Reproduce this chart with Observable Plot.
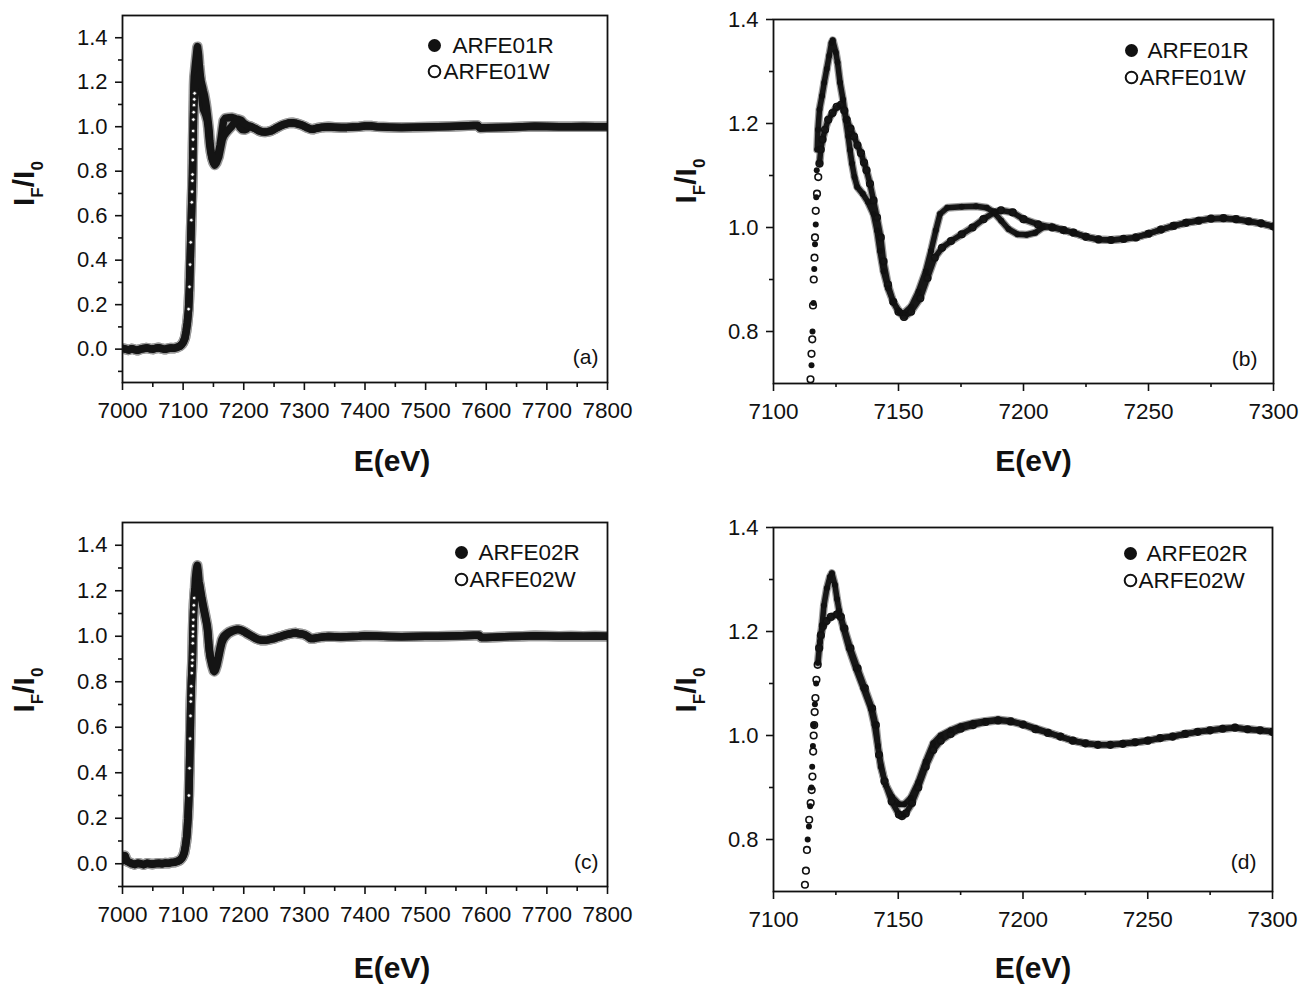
<!DOCTYPE html>
<html>
<head>
<meta charset="utf-8">
<script src="https://cdn.jsdelivr.net/npm/d3@7"></script>
<script src="https://cdn.jsdelivr.net/npm/@observablehq/plot@0.6"></script>
<style>
  body { margin: 0; background: #fff; }
  #wrap { position: relative; width: 1301px; height: 985px; background: #fff; overflow: hidden; }
  #wrap svg { position: absolute; }
</style>
</head>
<body>
<div id="wrap"></div>
<script>
// ---------------- DATA ----------------
const seriesNames01 = ["ARFE01R", "ARFE01W"];
const seriesNames02 = ["ARFE02R", "ARFE02W"];
const panelLetters = ["(a)", "(b)", "(c)", "(d)"];
const xTicksWide = [7000, 7100, 7200, 7300, 7400, 7500, 7600, 7700, 7800];
const xMinorWide = [7050, 7150, 7250, 7350, 7450, 7550, 7650, 7750];
const xTicksZoom = [7100, 7150, 7200, 7250, 7300];
const xMinorZoom = [7125, 7175, 7225, 7275];
const yTicksWide = [0.0, 0.2, 0.4, 0.6, 0.8, 1.0, 1.2, 1.4];
const yMinorWide = [-0.1, 0.1, 0.3, 0.5, 0.7, 0.9, 1.1, 1.3];
const yTicksZoom = [0.8, 1.0, 1.2, 1.4];
const yMinorZoom = [0.9, 1.1, 1.3];
const xLabel = "E(eV)";
const yLabel = "IF/I0";

// ARFE01: pre-edge (common to R and W), [E, I_F/I_0]
const pre01 = [[7000,0.004],[7005,0.0],[7010,-0.004],[7015,0.002],[7020,-0.002],[7025,-0.005],[7030,0.0],[7035,0.003],[7040,0.005],[7045,0.002],[7050,0.0],[7055,0.004],[7060,0.006],[7065,0.002],[7070,-0.001],[7075,0.003],[7080,0.005],[7085,0.004],[7090,0.008],[7095,0.014],[7098,0.022],[7100,0.03],[7103,0.05],[7105,0.08],[7107,0.12],[7109,0.18],[7110.5,0.28],[7111.5,0.38],[7112.5,0.48],[7113.5,0.58],[7114.3,0.66]];
// ARFE01R edge region
const edgeR01 = [[7115.2,0.735],[7115.6,0.80],[7116.0,0.855],[7116.3,0.92],[7116.6,0.968],[7116.9,1.006],[7117.1,1.058],[7117.3,1.11],[7117.5,1.15],[7117.8,1.188],[7118.4,1.227],[7119.4,1.253],[7120.3,1.279],[7121.3,1.305],[7122.3,1.331],[7123.2,1.355],[7123.7,1.36],[7124.9,1.337],[7125.6,1.318],[7126.6,1.279],[7127.8,1.246],[7128.9,1.208],[7129.9,1.175],[7130.6,1.149],[7131.4,1.123],[7132.4,1.097],[7133.5,1.078],[7135.7,1.065],[7137.8,1.049],[7140,1.026],[7141.4,0.994],[7142.6,0.955],[7144,0.916],[7145.8,0.883],[7147.9,0.857],[7150.4,0.838],[7152.2,0.835],[7155.1,0.848],[7158,0.877],[7160.9,0.916],[7163,0.955],[7164.9,0.994],[7166.6,1.026],[7169.5,1.038],[7175.3,1.040],[7181,1.041],[7185.3,1.038],[7188.2,1.029],[7191.1,1.013],[7194,0.997],[7197.6,0.987],[7201.2,0.986],[7204.7,0.99],[7207.6,1.0],[7211.2,1.002]];
// ARFE01W edge region
const edgeW01 = [[7114.8,0.708],[7115.2,0.757],[7115.5,0.785],[7115.8,0.85],[7116.1,0.9],[7116.4,0.942],[7116.6,0.981],[7116.9,1.032],[7117.4,1.065],[7117.9,1.097],[7118.4,1.123],[7118.9,1.15],[7119.6,1.169],[7120.6,1.188],[7121.9,1.207],[7123.6,1.22],[7125.3,1.232],[7127,1.236],[7128.3,1.225],[7129.3,1.207],[7130.8,1.19],[7132.2,1.175],[7133.6,1.158],[7135,1.143],[7136.2,1.125],[7137.2,1.11],[7138.6,1.084],[7140,1.052],[7141.4,1.019],[7142.9,0.981],[7144,0.935],[7145.8,0.89],[7147.9,0.857],[7150,0.838],[7152.2,0.828],[7155,0.838],[7158.7,0.864],[7161.6,0.903],[7164.5,0.942],[7167.4,0.961],[7171,0.974],[7175.3,0.987],[7179.6,1.0],[7184,1.016],[7188.3,1.029],[7191,1.033],[7195.7,1.029],[7200,1.016],[7205.8,1.006],[7211.5,1.0]];
// ARFE01 EXAFS tail (R and W overlap)
const tail01 = [[7216,0.995],[7220,0.99],[7225,0.982],[7230,0.977],[7235,0.976],[7240,0.978],[7245,0.981],[7250,0.988],[7255,0.996],[7260,1.003],[7265,1.009],[7270,1.013],[7275,1.017],[7280,1.018],[7285,1.016],[7290,1.012],[7295,1.008],[7300,1.002],[7305,0.995],[7310,0.99],[7315,0.989],[7320,0.993],[7330,0.998],[7340,1.0],[7350,0.998],[7360,0.996],[7370,0.997],[7380,0.999],[7390,1.0],[7400,1.003],[7410,1.003],[7420,1.0],[7440,0.998],[7460,0.997],[7480,0.998],[7500,0.999],[7520,1.0],[7540,1.001],[7560,1.003],[7580,1.005],[7586,1.005],[7590,0.994],[7600,0.995],[7620,0.996],[7640,0.998],[7660,1.0],[7680,1.002],[7700,1.001],[7720,1.0],[7740,1.0],[7760,1.001],[7780,1.0],[7800,1.0]];

// ARFE02
const pre02 = [[7000,0.03],[7002,0.015],[7004,0.035],[7006,0.02],[7008,0.01],[7012,0.005],[7016,0.0],[7020,-0.003],[7025,0.002],[7030,0.0],[7035,-0.004],[7040,0.002],[7045,0.0],[7050,-0.002],[7055,0.001],[7060,0.002],[7065,0.0],[7070,0.003],[7075,0.002],[7080,0.005],[7085,0.006],[7090,0.01],[7095,0.016],[7098,0.025],[7100,0.035],[7102,0.05],[7104,0.08],[7106,0.12],[7108,0.2],[7109.5,0.3],[7110.5,0.42],[7111.5,0.55],[7112.2,0.65]];
const edgeR02 = [[7113.7,0.8],[7114.2,0.825],[7114.7,0.864],[7115.2,0.9],[7115.5,0.94],[7115.8,0.98],[7116.2,1.02],[7116.6,1.06],[7117.1,1.1],[7117.8,1.14],[7118.6,1.18],[7119.5,1.213],[7120.2,1.25],[7121.4,1.283],[7122.6,1.305],[7123.4,1.312],[7124.6,1.29],[7125.5,1.262],[7126.3,1.24],[7128,1.206],[7130.2,1.168],[7133,1.129],[7136,1.091],[7139,1.052],[7140.5,1.02],[7141.8,0.98],[7143,0.94],[7145,0.905],[7147.5,0.882],[7150.3,0.868],[7152.5,0.868],[7155,0.88],[7158,0.91],[7161,0.95],[7164,0.985],[7167,1.0],[7171,1.01],[7175,1.018],[7180,1.024],[7185,1.028],[7190,1.031],[7195,1.028],[7200,1.022],[7205,1.014],[7210,1.006]];
const edgeW02 = [[7112.6,0.713],[7113,0.74],[7113.4,0.78],[7114.3,0.838],[7114.9,0.87],[7115.3,0.895],[7115.6,0.921],[7115.9,0.969],[7116.1,1.0],[7116.3,1.02],[7116.5,1.045],[7116.8,1.072],[7117.2,1.107],[7117.7,1.136],[7118.3,1.168],[7119,1.193],[7119.8,1.21],[7121.2,1.22],[7123,1.228],[7125.5,1.233],[7127,1.228],[7128.4,1.206],[7130.8,1.168],[7133.7,1.129],[7136.6,1.091],[7139.5,1.052],[7141,1.02],[7142.3,0.963],[7144.5,0.912],[7147.4,0.873],[7150.3,0.848],[7151.5,0.845],[7153,0.85],[7155.5,0.87],[7158,0.9],[7161,0.94],[7164,0.972],[7167,0.99],[7171,1.003],[7175,1.013],[7180,1.02],[7185,1.026],[7190,1.029],[7195,1.027],[7200,1.021],[7205,1.012],[7210,1.005]];
const tail02 = [[7215,0.998],[7220,0.99],[7225,0.985],[7230,0.982],[7235,0.982],[7240,0.984],[7245,0.987],[7250,0.99],[7255,0.995],[7260,0.998],[7265,1.003],[7270,1.007],[7275,1.01],[7280,1.013],[7285,1.015],[7290,1.012],[7295,1.01],[7300,1.007],[7305,1.0],[7310,0.99],[7315,0.99],[7320,0.993],[7330,0.997],[7340,0.999],[7350,0.998],[7360,0.997],[7370,0.998],[7380,0.999],[7390,1.0],[7400,1.002],[7420,1.001],[7440,0.999],[7460,0.998],[7480,0.999],[7500,1.0],[7520,1.0],[7540,1.001],[7560,1.002],[7580,1.004],[7588,1.004],[7592,0.994],[7600,0.995],[7620,0.997],[7640,0.999],[7660,1.0],[7680,1.002],[7700,1.001],[7720,1.0],[7740,1.001],[7760,1.0],[7780,1.001],[7800,1.0]];

// ---------------- BUILD ----------------
const toRows = (...parts) => parts.flat().map(([E, I]) => ({E, I}));
const R01 = toRows(pre01, edgeR01, tail01);
const W01 = toRows(pre01, edgeW01, tail01);
const R02 = toRows(pre02, edgeR02, tail02);
const W02 = toRows(pre02, edgeW02, tail02);

const FONT = "'Liberation Sans', Arial, sans-serif";
const INK = "#111";

function panel(cfg) {
  const {R, W, names, letter, wide, left, top, width, height, mt, mb, ml, mr,
         yDomain, legend, letterPos, xLab, yLab} = cfg;
  const dataMarks = wide ? [
    Plot.line(R, {x: "E", y: "I", stroke: "#9a9a9a", strokeWidth: 10.5, strokeLinejoin: "round", strokeLinecap: "round", clip: true}),
    Plot.line(W, {x: "E", y: "I", stroke: "#9a9a9a", strokeWidth: 10.5, strokeLinejoin: "round", strokeLinecap: "round", clip: true}),
    Plot.line(R, {x: "E", y: "I", stroke: "#141414", strokeWidth: 7.5, strokeLinejoin: "round", clip: true}),
    Plot.line(W, {x: "E", y: "I", stroke: "#141414", strokeWidth: 7.5, strokeLinejoin: "round", clip: true}),
    Plot.dot(W, {filter: d => d.E > 7108 && d.E < 7119, x: "E", y: "I", r: 1.8, fill: "white", stroke: "#222", strokeWidth: 0.8, clip: true})
  ] : [
    Plot.line(R, {filter: d => d.E >= 7117.4, x: "E", y: "I", stroke: "#9a9a9a", strokeWidth: 8, strokeLinejoin: "round", strokeLinecap: "round", clip: true}),
    Plot.line(W, {filter: d => d.E >= 7118.3, x: "E", y: "I", stroke: "#9a9a9a", strokeWidth: 8, strokeLinejoin: "round", strokeLinecap: "round", clip: true}),
    Plot.line(R, {filter: d => d.E >= 7117.4, x: "E", y: "I", stroke: "#161616", strokeWidth: 5.5, strokeLinejoin: "round", clip: true}),
    Plot.line(W, {filter: d => d.E >= 7118.3, x: "E", y: "I", stroke: "#161616", strokeWidth: 5.5, strokeLinejoin: "round", clip: true}),
    Plot.dot(R, {x: "E", y: "I", r: 3, fill: INK, clip: true}),
    Plot.dot(W, {x: "E", y: "I", r: 3.3, fill: "none", stroke: INK, strokeWidth: 1.6, clip: true})
  ];
  const svg = Plot.plot({
    width, height, marginTop: mt, marginBottom: mb, marginLeft: ml, marginRight: mr,
    style: {fontFamily: FONT, color: INK, background: "transparent", overflow: "visible"},
    x: {domain: wide ? [7000, 7800] : [7100, 7300]},
    y: {domain: yDomain},
    marks: [
      ...dataMarks,
      Plot.frame({stroke: INK, strokeWidth: 1.8}),
      Plot.axisX(wide ? xTicksWide : xTicksZoom, {tickSize: 8, tickPadding: 12, strokeWidth: 1.6, tickFormat: d => String(d), fontSize: 22.5, label: null}),
      Plot.axisX(wide ? xMinorWide : xMinorZoom, {tickSize: wide ? 5 : 4, strokeWidth: 1.6, tickFormat: () => "", label: null}),
      Plot.axisY(wide ? yTicksWide : yTicksZoom, {tickSize: 7, tickPadding: 8, strokeWidth: 1.6, tickFormat: d3.format(".1f"), fontSize: 22, label: null}),
      Plot.axisY(wide ? yMinorWide : yMinorZoom, {tickSize: 4, strokeWidth: 1.6, tickFormat: () => "", label: null}),
      // legend
      Plot.dot([names[0]], {frameAnchor: "top-right", dx: legend.dotDx, dy: legend.dy0, r: 6.5, fill: INK}),
      Plot.dot([names[1]], {frameAnchor: "top-right", dx: legend.dotDx, dy: legend.dy1, r: 5.8, fill: "none", stroke: INK, strokeWidth: 2}),
      Plot.text([names[0]], {text: d => d, frameAnchor: "top-right", textAnchor: "start", lineAnchor: "middle", dx: legend.tDx0, dy: legend.dy0, fontSize: 22.5, fill: INK}),
      Plot.text([names[1]], {text: d => d, frameAnchor: "top-right", textAnchor: "start", lineAnchor: "middle", dx: legend.tDx1, dy: legend.dy1, fontSize: 22.5, fill: INK}),
      // panel letter
      Plot.text([letter], {text: d => d, frameAnchor: "bottom-right", textAnchor: "end", lineAnchor: "middle", dx: letterPos[0], dy: letterPos[1], fontSize: 21, fill: INK}),
      // axis titles
      Plot.text([xLabel], {text: d => d, frameAnchor: "bottom", lineAnchor: "middle", dx: xLab[0], dy: xLab[1], fontSize: 30, fontWeight: "bold", fill: INK}),
      Plot.text([yLabel], {text: d => d, frameAnchor: "left", lineAnchor: "middle", rotate: -90, dx: yLab[0], dy: yLab[1], fontSize: 30, fontWeight: "bold", fill: INK})
    ]
  });
  svg.style.left = left + "px";
  svg.style.top = top + "px";
  // subscripts in the y label
  d3.select(svg).selectAll("text").filter(function () { return this.textContent === yLabel; })
    .each(function () {
      const t = d3.select(this);
      t.text("");
      t.append("tspan").text("I");
      t.append("tspan").attr("dy", 9).attr("font-size", 17).text("F");
      t.append("tspan").attr("dy", -9).text("/I");
      t.append("tspan").attr("dy", 9).attr("font-size", 17).text("0");
    });
  document.getElementById("wrap").appendChild(svg);
}

panel({R: R01, W: W01, names: seriesNames01, letter: panelLetters[0], wide: true,
  left: 0, top: 0, width: 650, height: 500, mt: 15, mb: 118, ml: 122, mr: 43,
  yDomain: [-0.15, 1.5],
  legend: {dotDx: -173, tDx0: -155, tDx1: -164, dy0: 30, dy1: 56},
  letterPos: [-9, -25], xLab: [27, 79], yLab: [-98, 7]});

panel({R: R01, W: W01, names: seriesNames01, letter: panelLetters[1], wide: false,
  left: 650, top: 0, width: 651, height: 500, mt: 19, mb: 117, ml: 123, mr: 28,
  yDomain: [0.7, 1.4],
  legend: {dotDx: -142, tDx0: -126, tDx1: -134, dy0: 31, dy1: 58},
  letterPos: [-16, -24], xLab: [10, 78], yLab: [-87, 2]});

panel({R: R02, W: W02, names: seriesNames02, letter: panelLetters[2], wide: true,
  left: 0, top: 500, width: 650, height: 485, mt: 22, mb: 99, ml: 122, mr: 43,
  yDomain: [-0.1, 1.5],
  legend: {dotDx: -146, tDx0: -129, tDx1: -138, dy0: 30, dy1: 57},
  letterPos: [-9, -24], xLab: [27, 82], yLab: [-98, 8]});

panel({R: R02, W: W02, names: seriesNames02, letter: panelLetters[3], wide: false,
  left: 650, top: 500, width: 651, height: 485, mt: 27, mb: 94, ml: 123, mr: 29,
  yDomain: [0.7, 1.4],
  legend: {dotDx: -142, tDx0: -126, tDx1: -134, dy0: 26, dy1: 53},
  letterPos: [-16, -29], xLab: [10, 77], yLab: [-87, 3]});
</script>
</body>
</html>
